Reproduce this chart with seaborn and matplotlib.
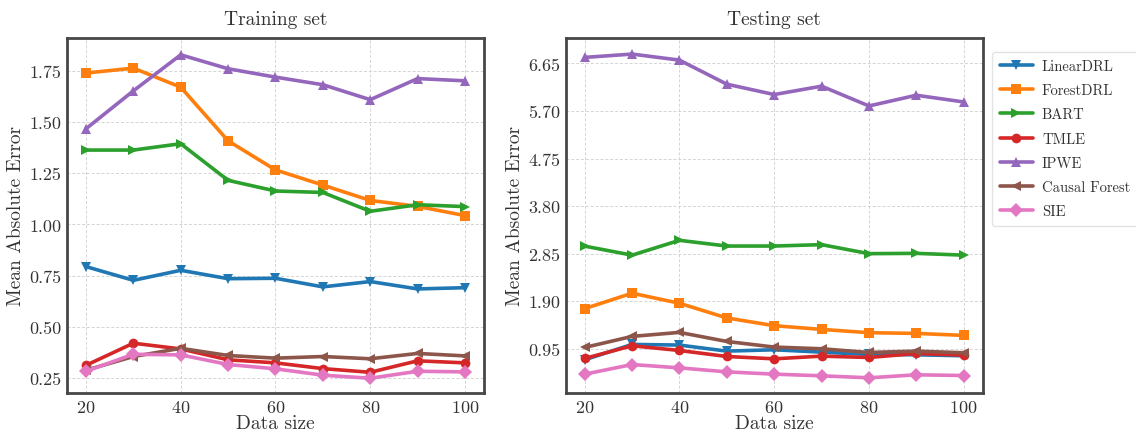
import matplotlib
matplotlib.use("Agg")
import matplotlib.pyplot as plt
import seaborn as sns
import pandas as pd
from matplotlib.ticker import FormatStrFormatter

data_size = [20, 30, 40, 50, 60, 70, 80, 90, 100]
methods = ["LinearDRL", "ForestDRL", "BART", "TMLE", "IPWE", "Causal Forest", "SIE"]

train_linear = [0.794, 0.727, 0.776, 0.735, 0.737, 0.695, 0.721, 0.685, 0.691]
train_forest = [1.739, 1.763, 1.670, 1.408, 1.266, 1.192, 1.117, 1.088, 1.043]
train_bart = [1.363, 1.363, 1.394, 1.215, 1.163, 1.156, 1.064, 1.096, 1.087]
train_tmle = [0.312, 0.420, 0.392, 0.339, 0.324, 0.296, 0.278, 0.334, 0.324]
train_ipwe = [1.467, 1.652, 1.828, 1.760, 1.719, 1.682, 1.609, 1.712, 1.701]
train_cf = [0.288, 0.355, 0.395, 0.360, 0.347, 0.355, 0.344, 0.370, 0.358]
train_sie = [0.283, 0.366, 0.363, 0.316, 0.295, 0.264, 0.249, 0.283, 0.280]

test_linear = [0.73, 1.037, 1.024, 0.903, 0.93, 0.883, 0.836, 0.83, 0.81]
test_forest = [1.752, 2.06, 1.859, 1.566, 1.411, 1.337, 1.271, 1.257, 1.217]
test_bart = [3.00, 2.82, 3.116, 3.002, 3.002, 3.03, 2.85, 2.856, 2.82]
test_tmle = [0.756, 1.01, 0.916, 0.796, 0.749, 0.803, 0.776, 0.856, 0.823]
test_ipwe = [6.77, 6.836, 6.716, 6.235, 6.028, 6.195, 5.80, 6.014, 5.88]
test_cf = [0.976, 1.197, 1.277, 1.096, 0.984, 0.95, 0.876, 0.903, 0.87]
test_sie = [0.443, 0.635, 0.569, 0.489, 0.443, 0.41, 0.37, 0.43, 0.416]

train_ticks = [0.25, 0.50, 0.75, 1.00, 1.25, 1.50, 1.75]
test_ticks = [0.95, 1.90, 2.85, 3.80, 4.75, 5.70, 6.65]
x_ticks = [20, 40, 60, 80, 100]


def long_df(series):
    rows = []
    for m, vals in zip(methods, series):
        for x, v in zip(data_size, vals):
            rows.append({"Data size": x, "MAE": v, "method": m})
    return pd.DataFrame(rows)


df_train = long_df([train_linear, train_forest, train_bart, train_tmle, train_ipwe, train_cf, train_sie])
df_test = long_df([test_linear, test_forest, test_bart, test_tmle, test_ipwe, test_cf, test_sie])

sns.set_style("whitegrid")
plt.rcParams["font.family"] = ["cmr10", "DejaVu Serif"]
plt.rcParams["axes.formatter.use_mathtext"] = True
plt.rcParams["text.color"] = "#333333"
plt.rcParams["axes.labelcolor"] = "#333333"
plt.rcParams["xtick.color"] = "#333333"
plt.rcParams["ytick.color"] = "#333333"

palette = dict(zip(methods, sns.color_palette("tab10", 7)))
markers = dict(zip(methods, ["v", "s", ">", "o", "^", "<", "D"]))

fig = plt.figure(figsize=(11.36, 4.35), dpi=100)
ax1 = fig.add_axes([0.059, 0.0943, 0.367, 0.816])
ax2 = fig.add_axes([0.498, 0.0943, 0.367, 0.816])

for ax, df, title in [(ax1, df_train, "Training set"), (ax2, df_test, "Testing set")]:
    sns.lineplot(data=df, x="Data size", y="MAE", hue="method", style="method",
                 hue_order=methods, style_order=methods, palette=palette,
                 markers=markers, dashes=False, linewidth=2.6, markersize=7,
                 markeredgewidth=0, ax=ax, legend=(ax is ax1))
    ax.set_title(title, fontsize=14, pad=10)
    ax.set_xlabel("Data size", fontsize=14, labelpad=0)
    ax.set_ylabel("Mean Absolute Error", fontsize=14, labelpad=3)
    ax.set_xticks(x_ticks)
    ax.tick_params(labelsize=13, length=0, pad=4)
    ax.set_xlim(16, 104)
    ax.grid(True, linestyle=(0, (3, 2)), color="#d4d4d4", linewidth=0.7)
    for s in ax.spines.values():
        s.set_linewidth(2.0)
        s.set_color("#474747")

ax1.set_yticks(train_ticks)
ax1.set_ylim(0.177, 1.91)
ax1.yaxis.set_major_formatter(FormatStrFormatter("%.2f"))
ax2.set_yticks(test_ticks)
ax2.set_ylim(0.067, 7.157)
ax2.yaxis.set_major_formatter(FormatStrFormatter("%.2f"))

handles, labels = ax1.get_legend_handles_labels()
ax1.get_legend().remove()
leg = fig.legend(handles, labels, loc="upper left", bbox_to_anchor=(0.871, 0.885),
                 fontsize=10.5, frameon=True, handlelength=2.3, labelspacing=0.72,
                 borderpad=0.5, handletextpad=0.6, borderaxespad=0.2)
leg.get_frame().set_edgecolor("#dddddd")
for h in leg.legend_handles:
    h.set_linewidth(2.6)

fig.savefig("out.png", dpi=100)
